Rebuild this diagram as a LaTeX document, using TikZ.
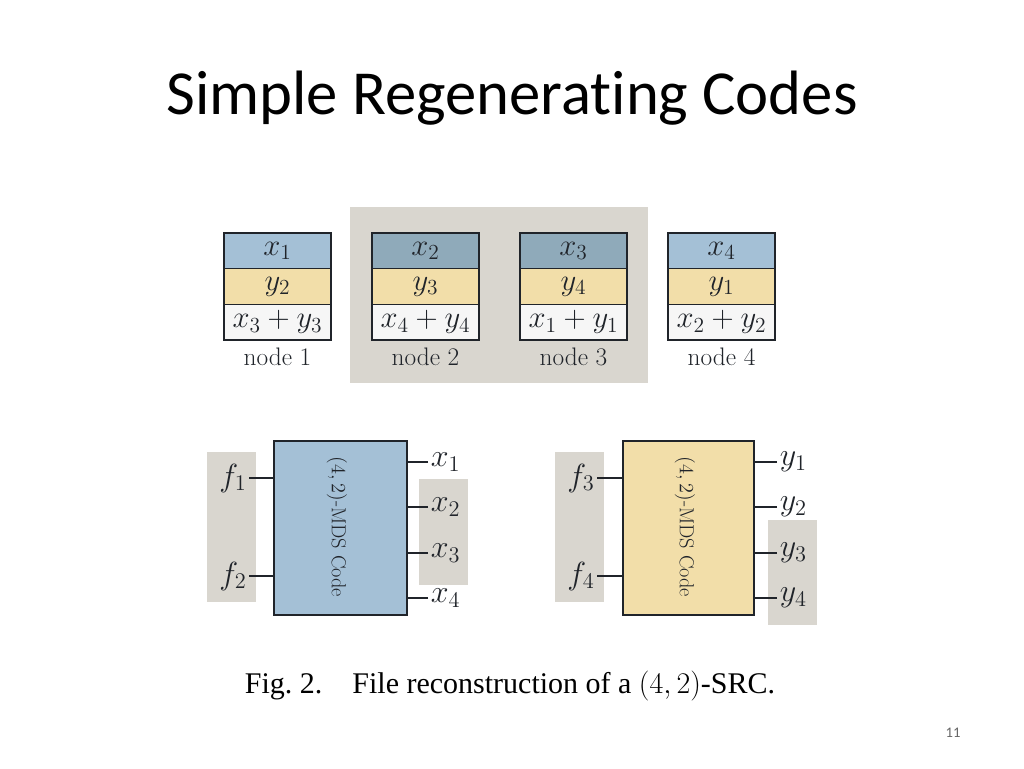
\RequirePackage{fix-cm}
\documentclass[tikz,border=0pt]{standalone}
\usepackage{fontspec}
\newfontfamily\titlefont[Ligatures=NoCommon]{Carlito}
\newfontfamily\capfont{Liberation Serif}
\usetikzlibrary{positioning}

\definecolor{cellblue}{RGB}{164,192,214}
\definecolor{cellbluedark}{RGB}{143,170,186}
\definecolor{cellyellow}{RGB}{242,222,169}
\definecolor{cellwhite}{RGB}{246,246,246}
\definecolor{shadegray}{RGB}{217,214,207}
\definecolor{inkgray}{RGB}{32,36,42}

\begin{document}
\begin{tikzpicture}[x=0.75pt, y=-0.75pt,
    cellbox/.style={draw=inkgray, line width=0.9pt, outer sep=0pt, inner sep=0pt,
      minimum width=80.25pt, minimum height=26.75pt, text=inkgray,
      font=\fontsize{23}{26}\selectfont},
    nodelabel/.style={inner sep=0pt, text=inkgray, font=\fontsize{19}{22}\selectfont},
    mdsbox/.style={draw=inkgray, line width=0.9pt, outer sep=0pt,
      minimum width=99.75pt, minimum height=130.5pt},
    mdstext/.style={rotate=-90, text=inkgray, font=\fontsize{15.2}{18}\selectfont},
    iolabel/.style={inner sep=2pt, text=inkgray, font=\fontsize{24}{27}\selectfont},
    wire/.style={draw=inkgray, line width=1.3pt}]
  \useasboundingbox (0,0) rectangle (1024,768);

  % title
  \node (title) at (512,98) {\titlefont\fontsize{47}{56}\selectfont Simple Regenerating Codes};

  % shaded helper nodes
  \fill[shadegray] (350,207) rectangle (648,383);

  % storage nodes
  \foreach \i/\a/\b/\c/\col in {1/x_1/y_2/x_3+y_3/cellblue, 2/x_2/y_3/x_4+y_4/cellbluedark,
      3/x_3/y_4/x_1+y_1/cellbluedark, 4/x_4/y_1/x_2+y_2/cellblue}{
    \node[cellbox, fill=\col] (n\i a) at ({129.5+148*\i}, 250.8) {$\a$};
    \node[cellbox, fill=cellyellow, below=0pt of n\i a] (n\i b) {$\b$};
    \node[cellbox, fill=cellwhite, below=0pt of n\i b] (n\i c) {$\c$};
    \node[nodelabel, below=6pt of n\i c] (n\i l) {node \i};
  }

  % reconstruction from x
  \fill[shadegray] (207,452) rectangle (256,602);
  \fill[shadegray] (419,479) rectangle (468,585);
  \node[mdsbox, fill=cellblue] (mdsA) at (340.5,528) {};
  \node[mdstext] (mdsAtext) at (337,527) {$(4,2)$-MDS Code};
  \node[iolabel] (f1) at (233,478) {$f_1$};
  \node[iolabel] (f2) at (233,576) {$f_2$};
  \draw[wire] (f1.east) -- (f1.east -| mdsA.west);
  \draw[wire] (f2.east) -- (f2.east -| mdsA.west);
  \foreach \k/\yy in {1/462, 2/507, 3/553, 4/598}{
    \node[iolabel, anchor=west] (ox\k) at (428,\yy) {$x_\k$};
    \draw[wire] (ox\k.west) -- (ox\k.west -| mdsA.east);
  }

  % reconstruction from y
  \fill[shadegray] (555,452) rectangle (604,602);
  \fill[shadegray] (768,520) rectangle (817,625);
  \node[mdsbox, fill=cellyellow, minimum width=98.25pt] (mdsB) at (688.5,528) {};
  \node[mdstext] (mdsBtext) at (685,527) {$(4,2)$-MDS Code};
  \node[iolabel] (f3) at (581,478) {$f_3$};
  \node[iolabel] (f4) at (581,576) {$f_4$};
  \draw[wire] (f3.east) -- (f3.east -| mdsB.west);
  \draw[wire] (f4.east) -- (f4.east -| mdsB.west);
  \foreach \k/\yy in {1/462, 2/507, 3/553, 4/598}{
    \node[iolabel, anchor=west] (oy\k) at (777,\yy) {$y_\k$};
    \draw[wire] (oy\k.west) -- (oy\k.west -| mdsB.east);
  }

  % caption
  \node (caption) at (510,686) {\capfont\fontsize{22.5}{26}\selectfont Fig.~2.\quad File reconstruction of a $(4,2)$-SRC.};

  % slide number
  \node[text=black!60] (pagenum) at (953,733) {\titlefont\fontsize{11}{13}\selectfont 11};
\end{tikzpicture}
\end{document}
